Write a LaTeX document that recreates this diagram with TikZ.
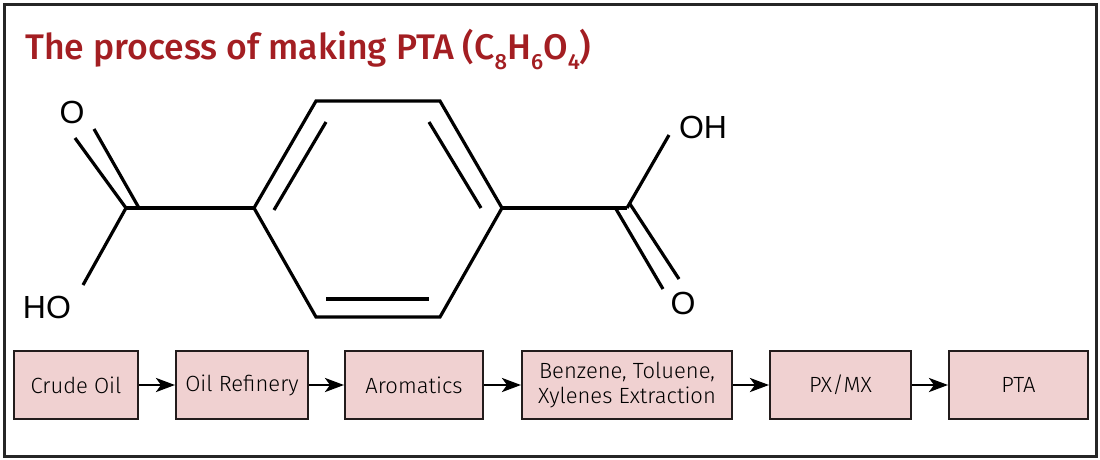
\documentclass[tikz,border=0pt]{standalone}
\usepackage{fontspec}
\usepackage{xcolor}
\usetikzlibrary{arrows.meta}
\setmainfont{Fira Sans}[UprightFont={* Light}]
\newfontfamily\titlefont{Fira Sans}[UprightFont={* Medium}]
\newfontfamily\atomfont{Liberation Sans}
\definecolor{titlered}{RGB}{163,30,34}
\definecolor{boxpink}{RGB}{240,209,209}
\definecolor{boxline}{RGB}{35,28,28}
\newcommand{\chemsub}[1]{\raisebox{-10pt}{\fontsize{22}{22}\selectfont #1}}
\begin{document}
\begin{tikzpicture}[x=1pt, y=-1pt]
	\tikzstyle{bond} = [draw=black, line width=3.2pt]
	\tikzstyle{atom} = [inner sep=0pt, font=\atomfont\fontsize{32}{32}\selectfont]
	\tikzstyle{stage} = [draw=boxline, line width=2pt, fill=boxpink, inner sep=0pt, align=center, font=\fontsize{22}{25}\selectfont]
	\tikzstyle{flow} = [draw=black, line width=2.8pt, -{Stealth[length=19pt,width=14pt,inset=5pt]}]
	\useasboundingbox (0,0) rectangle (1100,459);
	\draw[line width=3pt, draw=black!85] (4,4) rectangle (1096,456);
		\node[anchor=base west, text=titlered, inner sep=0pt, font=\titlefont\fontsize{35.6}{36}\selectfont] (title) at (25,59)
			{The process of making PTA (C\chemsub{8}H\chemsub{6}O\chemsub{4})};
	% ring
		\coordinate (r1) at (254,208);
		\coordinate (r2) at (316,101);
		\coordinate (r3) at (440,101);
		\coordinate (r4) at (502,208);
		\coordinate (r5) at (440,317);
		\coordinate (r6) at (316,317);
		\coordinate (d1a) at (274,210);
		\coordinate (d1b) at (326,122);
		\coordinate (d2a) at (429,122);
		\coordinate (d2b) at (481,208);
		\coordinate (d3a) at (326,299);
		\coordinate (d3b) at (429,299);
	% carboxyl groups
		\coordinate (cl) at (126,208);
		\coordinate (clo) at (75,138);
		\coordinate (clo2) at (94,129);
		\coordinate (clc2) at (139,208);
		\coordinate (cloh) at (83,285);
		\coordinate (cr) at (627,208);
		\coordinate (croh) at (669,135);
		\coordinate (crc1) at (616,209);
		\coordinate (cro) at (663,289);
		\coordinate (cro2) at (679,279);
		\coordinate (crc2) at (630,204);
		\node[atom] (ol) at (72,112) {O};
		\node[atom] (hol) at (47,307) {HO};
		\node[atom] (ohr) at (703,127) {OH};
		\node[atom] (or) at (683,303) {O};
	\draw[bond, line join=miter] (r1) -- (r2) -- (r3) -- (r4) -- (r5) -- (r6) -- cycle;
	\path [bond] (d1a) edge[bond] (d1b)
		       (d2a) edge[bond] (d2b)
		       (d3a) edge[bond] (d3b)
		       (cl) edge[bond] (r1)
		       (r4) edge[bond] (cr)
		       (cl) edge[bond] (clo)
		       (clc2) edge[bond] (clo2)
		       (cl) edge[bond] (cloh)
		       (cr) edge[bond] (croh)
		       (crc1) edge[bond] (cro)
		       (crc2) edge[bond] (cro2);
	% process chain
		\node[stage, minimum width=124pt, minimum height=68pt] (crude) at (76,385) {Crude Oil};
		\node[stage, minimum width=132pt, minimum height=68pt] (refinery) at (242,385) {Oil Refinery};
		\node[stage, minimum width=138pt, minimum height=68pt] (aromatics) at (414,385) {Aromatics};
		\node[stage, minimum width=210pt, minimum height=68pt] (btx) at (627,385) {Benzene, Toluene,\\Xylenes Extraction};
		\node[stage, minimum width=141pt, minimum height=68pt] (pxmx) at (840.5,385) {PX/MX};
		\node[stage, minimum width=139pt, minimum height=68pt] (pta) at (1018.5,385) {PTA};
	\draw [flow] (crude) -- (refinery);
	\draw [flow] (refinery) -- (aromatics);
	\draw [flow] (aromatics) -- (btx);
	\draw [flow] (btx) -- (pxmx);
	\draw [flow] (pxmx) -- (pta);
	\end{tikzpicture}
\end{document}
